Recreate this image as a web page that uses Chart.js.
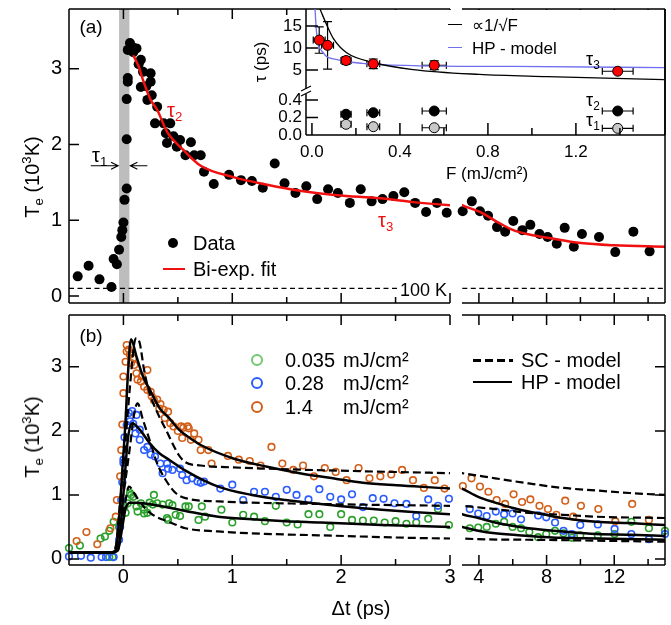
<!DOCTYPE html>
<html>
<head>
<meta charset="utf-8">
<title>Electron temperature transients</title>
<script src="https://cdn.jsdelivr.net/npm/chart.js@4.4.1/dist/chart.umd.min.js"></script>
<style>
html, body { margin: 0; padding: 0; background: #fff; }
#fig { position: relative; width: 671px; height: 625px; overflow: hidden; font-family: 'Liberation Sans', Arial, sans-serif; }
#fig canvas { position: absolute; left: 0; top: 0; }
.t { position: absolute; white-space: nowrap; line-height: 1; color: #000; }
.lm { transform: translateY(-50%); }
.cm { transform: translate(-50%, -50%); }
.rot { transform: translate(-50%, -50%) rotate(-90deg); }
sub { font-size: 0.66em; vertical-align: -0.3em; line-height: 0; }
sup { font-size: 0.66em; vertical-align: 0.62em; line-height: 0; }
.red { color: #f01010; }
.ln { position: absolute; height: 0; }
.dash { position: absolute; height: 2.5px; background: repeating-linear-gradient(90deg, #000 0 8px, transparent 8px 12px); }
.dot { position: absolute; border-radius: 50%; box-sizing: border-box; }
</style>
</head>
<body>
<div id="fig">
  <canvas id="aL" width="671" height="625"></canvas>
  <canvas id="aR" width="671" height="625"></canvas>
  <canvas id="bL" width="671" height="625"></canvas>
  <canvas id="bR" width="671" height="625"></canvas>
  <canvas id="iU" width="671" height="625"></canvas>
  <canvas id="iL" width="671" height="625"></canvas>

  <!-- panel (a) labels -->
  <div class="t cm" style="left:91px;top:26px;font-size:19px">(a)</div>
  <div class="t rot" style="left:32px;top:177px;font-size:20px">T<sub>e</sub> (10<sup>3</sup>K)</div>
  <div class="t lm" style="left:92px;top:155px;font-size:20px">τ<sub>1</sub></div>
  <div class="t lm red" style="left:167px;top:110px;font-size:20px">τ<sub>2</sub></div>
  <div class="t lm red" style="left:378px;top:220px;font-size:20px">τ<sub>3</sub></div>
  <div class="t lm" style="left:398px;top:290px;font-size:18px;background:#fff;padding:0 2px">100 K</div>
  <div class="dot" style="left:168px;top:238px;width:10px;height:10px;background:#000"></div>
  <div class="t lm" style="left:193px;top:243px;font-size:20px">Data</div>
  <div class="ln" style="left:163px;top:268px;width:22px;border-top:2.5px solid #f01010"></div>
  <div class="t lm" style="left:193px;top:269px;font-size:20px">Bi-exp. fit</div>

  <!-- inset labels -->
  <div class="ln" style="left:448px;top:24px;width:14px;border-top:1.5px solid #000"></div>
  <div class="t lm" style="left:472px;top:25px;font-size:17px">∝1/√F</div>
  <div class="ln" style="left:448px;top:47px;width:14px;border-top:1.5px solid #6f6ff0"></div>
  <div class="t lm" style="left:472px;top:48px;font-size:17px">HP - model</div>
  <div class="t cm" style="left:487px;top:173px;font-size:17px">F (mJ/cm²)</div>
  <div class="t rot" style="left:260px;top:62px;font-size:17px">τ (ps)</div>
  <div class="t lm" style="left:586px;top:59px;font-size:18px">τ<sub>3</sub></div>
  <div class="t lm" style="left:586px;top:100px;font-size:18px">τ<sub>2</sub></div>
  <div class="t lm" style="left:586px;top:120px;font-size:18px">τ<sub>1</sub></div>

  <!-- panel (b) labels -->
  <div class="t cm" style="left:91px;top:335px;font-size:19px">(b)</div>
  <div class="t rot" style="left:32px;top:437px;font-size:20px">T<sub>e</sub> (10<sup>3</sup>K)</div>
  <div class="t cm" style="left:361px;top:608px;font-size:20px">Δt (ps)</div>
  <div class="dot" style="left:251px;top:354px;width:12px;height:12px;border:2px solid #70c870"></div>
  <div class="dot" style="left:251px;top:377px;width:12px;height:12px;border:2px solid #2a5cff"></div>
  <div class="dot" style="left:251px;top:401px;width:12px;height:12px;border:2px solid #d2601a"></div>
  <div class="t lm" style="left:285px;top:360px;font-size:20px">0.035</div>
  <div class="t lm" style="left:285px;top:383px;font-size:20px">0.28</div>
  <div class="t lm" style="left:285px;top:407px;font-size:20px">1.4</div>
  <div class="t lm" style="left:343px;top:360px;font-size:20px">mJ/cm²</div>
  <div class="t lm" style="left:343px;top:383px;font-size:20px">mJ/cm²</div>
  <div class="t lm" style="left:343px;top:407px;font-size:20px">mJ/cm²</div>
  <div class="dash" style="left:473px;top:359px;width:40px"></div>
  <div class="t lm" style="left:521px;top:360px;font-size:20px">SC - model</div>
  <div class="ln" style="left:473px;top:381px;width:39px;border-top:2.5px solid #000"></div>
  <div class="t lm" style="left:521px;top:382px;font-size:20px">HP - model</div>
</div>

<script>
const FONT = "'Liberation Sans', Arial, sans-serif";
const W = 671, H = 625;

// ---- panel (a): measured Te (10^3 K) vs delay (ps)
const aT = [
  -0.42, -0.32, -0.22, -0.11, -0.09, -0.06, -0.04, -0.02, -0.01, 0.00,
  0.01, 0.03, 0.03, 0.03, 0.04, 0.04, 0.06, 0.04, 0.08, 0.09,
  0.12, 0.16, 0.14, 0.18, 0.16, 0.21, 0.25, 0.25, 0.22, 0.26,
  0.31, 0.29, 0.37, 0.43, 0.39, 0.40, 0.46, 0.52, 0.49, 0.57,
  0.62, 0.65, 0.71, 0.74, 0.83, 0.97, 1.08, 1.18, 1.28, 1.39,
  1.48, 1.58, 1.68, 1.78, 1.88, 1.97, 2.08, 2.18, 2.28, 2.38,
  2.48, 2.58, 2.68, 2.78, 2.88, 2.97, 3.04, 3.58, 4.06, 4.54,
  5.07, 5.55, 6.03, 6.57, 7.04, 7.58, 8.06, 8.60, 9.07, 9.61,
  10.09, 11.10, 12.06, 13.13, 14.09
];
const aTe = [
  0.26, 0.40, 0.22, 0.12, 0.49, 0.42, 0.61, 0.78, 0.87, 0.97,
  1.27, 1.42, 2.07, 2.60, 2.83, 2.88, 3.34, 3.25, 3.29, 3.22,
  3.27, 3.12, 3.06, 2.96, 2.76, 2.77, 2.94, 2.83, 2.59, 2.65,
  2.50, 2.28, 2.28, 2.28, 2.15, 2.02, 2.11, 2.06, 1.97, 1.86,
  2.03, 1.86, 1.86, 1.64, 1.48, 1.60, 1.53, 1.52, 1.43, 1.75,
  1.49, 1.36, 1.45, 1.28, 1.41, 1.36, 1.23, 1.41, 1.25, 1.28,
  1.32, 1.37, 1.23, 1.11, 1.23, 1.10, 1.12, 1.25, 1.12, 1.06,
  0.91, 0.85, 0.99, 0.87, 0.94, 0.82, 0.78, 0.69, 0.90, 0.65,
  0.82, 0.78, 0.58, 0.85, 0.59
];
// bi-exponential fit
const fitT  = [0.09, 0.14, 0.18, 0.25, 0.31, 0.40, 0.55, 0.71, 1.01, 1.32, 1.62, 1.96, 2.36, 2.66, 3.00, 4.06, 5.07, 6.03, 7.04, 8.06, 10.03, 12.0, 15.0];
const fitTe = [3.18, 3.03, 2.85, 2.59, 2.46, 2.17, 1.93, 1.72, 1.57, 1.47, 1.39, 1.33, 1.29, 1.24, 1.20, 1.11, 0.98, 0.87, 0.81, 0.77, 0.70, 0.67, 0.65];
const pumpBand = [-0.04, 0.055];      // grey tau1 window
const level100K = 0.1;
const tau1Arrow = { y: 1.72, from: [-0.30, 0.22] };

// ---- panel (b): three fluences
const orT = [
  -0.43, -0.34, -0.24, -0.12, -0.07, -0.06, -0.03, -0.02, -0.01, 0.00,
  0.00, 0.02, 0.03, 0.03, 0.05, 0.06, 0.07, 0.08, 0.09, 0.10,
  0.12, 0.13, 0.16, 0.17, 0.19, 0.22, 0.22, 0.25, 0.26, 0.28,
  0.31, 0.33, 0.34, 0.37, 0.38, 0.41, 0.43, 0.46, 0.50, 0.53,
  0.54, 0.55, 0.59, 0.60, 0.62, 0.65, 0.69, 0.71, 0.78, 0.81,
  0.96, 1.06, 1.16, 1.26, 1.36, 1.46, 1.56, 1.65, 1.75, 1.85,
  1.95, 2.05, 2.16, 2.26, 2.36, 2.46, 2.56, 2.66, 2.76, 2.86,
  2.95, 3.05, 3.56, 4.06, 4.56, 5.05, 5.55, 6.05, 6.55, 7.04,
  7.58, 8.08, 8.58, 9.10, 9.57, 10.03, 11.06, 12.06, 13.06, 14.05
];
const orTe = [
  0.28, 0.42, 0.23, 0.48, 0.66, 0.92, 1.29, 1.70, 2.10, 2.59,
  2.85, 3.08, 3.34, 3.24, 3.27, 3.19, 3.06, 3.22, 3.14, 3.03,
  2.90, 2.80, 2.77, 2.85, 2.69, 2.95, 2.64, 2.61, 2.54, 2.48,
  2.49, 2.35, 2.42, 2.33, 2.20, 2.30, 2.12, 2.07, 2.00, 2.07,
  1.89, 2.05, 2.07, 2.04, 1.86, 1.96, 1.86, 1.70, 1.70, 1.49,
  1.61, 1.55, 1.53, 1.46, 1.75, 1.49, 1.39, 1.46, 1.29, 1.42,
  1.36, 1.23, 1.42, 1.26, 1.29, 1.32, 1.39, 1.23, 1.11, 1.23,
  1.10, 1.14, 1.26, 1.13, 1.05, 0.92, 0.86, 1.01, 0.89, 0.93,
  0.83, 0.78, 0.69, 0.91, 0.66, 0.83, 0.78, 0.59, 0.86, 0.61
];
const blT = [
  -0.50, -0.39, -0.30, -0.20, -0.16, -0.09, -0.04, -0.03, -0.02, -0.01,
  0.00, 0.00, 0.01, 0.03, 0.05, 0.06, 0.08, 0.09, 0.11, 0.12,
  0.15, 0.15, 0.19, 0.22, 0.25, 0.29, 0.34, 0.36, 0.40, 0.41,
  0.45, 0.52, 0.54, 0.58, 0.63, 0.68, 0.71, 0.74, 0.89, 1.00,
  1.10, 1.20, 1.30, 1.40, 1.50, 1.59, 1.70, 1.80, 1.90, 2.00,
  2.10, 2.20, 2.29, 2.39, 2.49, 2.60, 2.69, 2.80, 2.89, 2.99,
  3.46, 3.96, 4.46, 5.00, 5.49, 5.99, 6.49, 7.50, 7.98, 8.50,
  9.00, 9.49, 9.99, 11.03, 12.02, 13.01, 14.05, 15.00
];
const blTe = [
  0.04, 0.05, 0.02, 0.03, 0.03, 0.03, 0.30, 0.50, 0.92, 1.20,
  1.50, 1.55, 1.90, 2.09, 2.28, 2.15, 2.31, 2.11, 1.96, 2.25,
  2.02, 1.86, 1.70, 1.75, 1.63, 1.60, 1.49, 1.34, 1.49, 1.41,
  1.39, 1.41, 1.31, 1.23, 1.26, 1.21, 1.19, 1.21, 1.10, 1.16,
  0.92, 1.05, 1.05, 0.97, 1.08, 1.00, 0.93, 1.09, 0.97, 0.93,
  1.01, 0.81, 0.95, 0.94, 0.87, 0.86, 0.67, 0.93, 0.83, 0.94,
  0.78, 0.71, 0.67, 0.74, 0.70, 0.71, 0.62, 0.68, 0.65, 0.57,
  0.44, 0.39, 0.53, 0.54, 0.47, 0.39, 0.31, 0.39
];
const grT = [
  -0.50, -0.40, -0.21, -0.17, -0.13, -0.13, -0.10, -0.09, -0.04, 0.01,
  0.02, 0.04, 0.06, 0.07, 0.09, 0.12, 0.13, 0.16, 0.19, 0.19,
  0.22, 0.24, 0.27, 0.28, 0.31, 0.36, 0.40, 0.41, 0.42, 0.45,
  0.48, 0.52, 0.57, 0.60, 0.69, 0.72, 0.75, 0.90, 1.00, 1.10,
  1.20, 1.30, 1.40, 1.50, 1.60, 1.70, 1.80, 1.90, 2.00, 2.10,
  2.20, 2.30, 2.40, 2.50, 2.60, 2.69, 2.80, 2.89, 2.99, 3.46,
  3.96, 4.46, 5.00, 5.49, 5.99, 6.49, 6.98, 7.50, 7.98, 8.50,
  9.00, 9.49, 9.99, 11.03, 12.02, 13.01, 14.05, 15.00
];
const grTe = [
  0.17, 0.21, 0.32, 0.35, 0.44, 0.03, 0.03, 0.58, 0.50, 0.82,
  0.72, 0.87, 1.03, 1.00, 0.97, 0.82, 0.74, 0.87, 0.71, 0.77,
  0.72, 0.88, 0.85, 1.00, 0.87, 0.85, 0.64, 0.61, 0.87, 0.84,
  0.69, 0.67, 0.82, 0.82, 0.61, 0.82, 0.66, 0.77, 0.57, 0.69,
  0.66, 0.59, 0.83, 0.57, 0.54, 0.70, 0.70, 0.50, 0.70, 0.61,
  0.60, 0.60, 0.57, 0.59, 0.55, 0.57, 0.63, 0.78, 0.53, 0.48,
  0.49, 0.50, 0.55, 0.58, 0.50, 0.48, 0.42, 0.34, 0.39, 0.44,
  0.40, 0.33, 0.37, 0.37, 0.39, 0.58, 0.48, 0.44
];
// model curves
const hpOrT  = [-0.5, -0.12, -0.07, -0.04, -0.01, 0.02, 0.04, 0.07, 0.12, 0.18, 0.25, 0.33, 0.42, 0.51, 0.61, 0.71, 1.01, 1.32, 1.62, 1.96, 2.2, 2.51, 3.0, 3.96, 4.96, 5.95, 6.94, 7.94, 8.94, 10.93, 12.92, 15.0];
const hpOrTe = [0.1, 0.1, 0.14, 0.61, 1.39, 2.17, 2.85, 3.43, 3.16, 2.85, 2.62, 2.36, 2.2, 2.02, 1.89, 1.78, 1.57, 1.44, 1.34, 1.25, 1.19, 1.15, 1.10, 0.97, 0.88, 0.80, 0.74, 0.69, 0.64, 0.58, 0.56, 0.53];
const hpBlT  = [-0.5, -0.12, -0.05, -0.02, 0.01, 0.04, 0.08, 0.15, 0.24, 0.33, 0.42, 0.57, 0.87, 1.18, 1.49, 1.81, 2.37, 3.0, 3.96, 4.96, 5.95, 6.94, 8.94, 10.93, 12.92, 15.0];
const hpBlTe = [0.1, 0.1, 0.14, 0.61, 1.23, 1.86, 2.12, 2.02, 1.81, 1.65, 1.55, 1.38, 1.13, 1.00, 0.92, 0.86, 0.77, 0.70, 0.64, 0.57, 0.52, 0.48, 0.43, 0.39, 0.38, 0.36];
const hpGrT  = [-0.5, -0.12, -0.05, -0.01, 0.02, 0.06, 0.12, 0.30, 0.57, 0.87, 1.18, 1.49, 1.81, 2.37, 3.0, 3.96, 4.96, 6.94, 8.94, 10.93, 15.0];
const hpGrTe = [0.1, 0.1, 0.14, 0.50, 0.79, 0.88, 0.88, 0.84, 0.75, 0.66, 0.62, 0.59, 0.57, 0.53, 0.50, 0.44, 0.40, 0.36, 0.33, 0.32, 0.30];
const scOrT  = [-0.5, -0.12, -0.07, -0.04, 0.01, 0.06, 0.10, 0.12, 0.15, 0.19, 0.24, 0.30, 0.39, 0.51, 0.57, 0.71, 1.01, 1.96, 3.0, 4.96, 6.94, 8.94, 10.93, 12.92, 15.0];
const scOrTe = [0.1, 0.1, 0.2, 0.72, 1.65, 2.69, 3.37, 3.45, 3.37, 2.95, 2.59, 2.33, 2.02, 1.62, 1.51, 1.46, 1.43, 1.38, 1.34, 1.26, 1.18, 1.11, 1.07, 1.03, 1.00];
const scBlT  = [-0.5, -0.12, -0.07, -0.04, 0.01, 0.06, 0.10, 0.13, 0.18, 0.24, 0.31, 0.39, 0.48, 0.57, 0.87, 1.79, 3.0, 4.96, 6.94, 8.94, 10.93, 15.0];
const scBlTe = [0.1, 0.1, 0.16, 0.61, 1.13, 1.75, 2.28, 2.43, 2.17, 1.86, 1.49, 1.23, 1.03, 0.95, 0.90, 0.86, 0.83, 0.78, 0.72, 0.69, 0.66, 0.64];
const scGrT  = [-0.5, -0.12, -0.07, -0.04, 0.01, 0.05, 0.12, 0.21, 0.30, 0.42, 0.57, 0.87, 1.18, 1.79, 3.0, 6.94, 15.0];
const scGrTe = [0.1, 0.1, 0.14, 0.40, 0.82, 1.13, 0.97, 0.77, 0.66, 0.58, 0.48, 0.43, 0.40, 0.37, 0.32, 0.30, 0.27];

// ---- inset: time constants vs fluence
const fl3   = [0.033, 0.071, 0.155, 0.279, 0.556, 1.39];
const fl3E  = [0.027, 0.027, 0.023, 0.029, 0.055, 0.07];
const tau3  = [11.8, 10.6, 7.15, 6.4, 6.08, 4.71];
const tau3E = [3.0, 5.4, 0.9, 1.1, 1.0, 0];
const fl12  = [0.155, 0.279, 0.556, 1.39];
const fl12E = [0.023, 0.029, 0.055, 0.07];
const tau2  = [0.237, 0.255, 0.274, 0.274];
const tau1  = [0.122, 0.095, 0.083, 0.076];
const sqrtF   = [0.036, 0.074, 0.097, 0.158, 0.28, 0.46, 0.76, 1.07, 1.6];
const sqrtTau = [18.9, 14.5, 12.2, 8.9, 6.7, 5.1, 4.0, 3.5, 2.8];
const hpF   = [0.014, 0.021, 0.05, 0.11, 0.23, 0.46, 0.91, 1.6];
const hpTau = [18.9, 13.5, 9.0, 7.4, 6.5, 6.0, 5.8, 5.55];

// ticks
const yTicks = [0, 1, 2, 3];
const xMajL = [0, 1, 2, 3], xMinL = [0.5, 1.5, 2.5];
const xMajR = [4, 8, 12], xMinR = [6, 10, 14];
const fMaj = [0, 0.4, 0.8, 1.2], fMin = [0.2, 0.6, 1.0, 1.4];

const ORANGE = '#d2601a', BLUE = '#2a5cff', GREEN = '#2ca02c';

function pts(xs, ys, lo, hi) {
  const out = xs.map((x, i) => ({ x, y: ys[i] }));
  return lo === undefined ? out : out.filter(p => p.x >= lo && p.x <= hi);
}
function dots(data, r, fill, stroke, bw) {
  return { data, showLine: false, pointRadius: r, pointHoverRadius: r, pointBackgroundColor: fill,
    pointBorderColor: stroke, pointBorderWidth: bw, clip: 8 };
}
function curve(data, color, w, dash) {
  return { data, showLine: true, pointRadius: 0, borderColor: color, borderWidth: w, borderDash: dash || [],
    cubicInterpolationMode: 'monotone', clip: 0, fill: false };
}
function errDots(data, r, fill, xErr, yErr) {
  return Object.assign(dots(data, r, fill, '#000', 1), { xErr, yErr });
}

// frame, inward ticks, grey band, arrows, error bars
const deco = {
  id: 'deco',
  beforeDraw(c, args, o) {
    if (!o.bg) return;
    const r = c.chartArea;
    c.ctx.save();
    c.ctx.fillStyle = '#fff';
    c.ctx.fillRect(r.left, r.top + 1, r.right - r.left - 1, r.bottom - r.top - 1);
    c.ctx.restore();
  },
  beforeDatasetsDraw(c, args, o) {
    const r = c.chartArea, ctx = c.ctx, xs = c.scales.x, ys = c.scales.y;
    ctx.save();
    if (o.band) {
      const x0 = xs.getPixelForValue(o.band[0]), x1 = xs.getPixelForValue(o.band[1]);
      ctx.fillStyle = '#bdbdbd';
      ctx.fillRect(x0, r.top, x1 - x0, r.bottom - r.top);
    }
    if (o.errors) {
      ctx.strokeStyle = '#000';
      ctx.lineWidth = 1.2;
      c.data.datasets.forEach(ds => {
        if (!ds.xErr) return;
        ds.data.forEach((p, i) => {
          const px = xs.getPixelForValue(p.x), py = ys.getPixelForValue(p.y);
          const ex = ds.xErr[i], ey = ds.yErr ? ds.yErr[i] : 0;
          ctx.beginPath();
          if (ex) {
            const a = xs.getPixelForValue(p.x - ex), b = xs.getPixelForValue(p.x + ex);
            ctx.moveTo(a, py); ctx.lineTo(b, py);
            ctx.moveTo(a, py - 3.5); ctx.lineTo(a, py + 3.5);
            ctx.moveTo(b, py - 3.5); ctx.lineTo(b, py + 3.5);
          }
          if (ey) {
            const a = ys.getPixelForValue(p.y - ey), b = ys.getPixelForValue(p.y + ey);
            ctx.moveTo(px, a); ctx.lineTo(px, b);
            ctx.moveTo(px - 4.5, a); ctx.lineTo(px + 4.5, a);
            ctx.moveTo(px - 4.5, b); ctx.lineTo(px + 4.5, b);
          }
          ctx.stroke();
        });
      });
    }
    ctx.restore();
  },
  afterDraw(c, args, o) {
    const r = c.chartArea, ctx = c.ctx, xs = c.scales.x, ys = c.scales.y;
    const f = o.frame || '';
    ctx.save();
    ctx.strokeStyle = '#000';
    ctx.lineWidth = 1.5;
    ctx.beginPath();
    if (f.includes('t')) { ctx.moveTo(r.left, r.top); ctx.lineTo(r.right, r.top); }
    if (f.includes('b')) { ctx.moveTo(r.left, r.bottom); ctx.lineTo(r.right, r.bottom); }
    if (f.includes('l')) { ctx.moveTo(r.left, r.top); ctx.lineTo(r.left, r.bottom); }
    if (f.includes('r')) { ctx.moveTo(r.right, r.top); ctx.lineTo(r.right, r.bottom); }
    const big = o.maj || 10, small = o.min || 6;
    const xt = (vals, len) => (vals || []).forEach(v => {
      const p = xs.getPixelForValue(v);
      if ((o.xSides || '').includes('b')) { ctx.moveTo(p, r.bottom); ctx.lineTo(p, r.bottom - len); }
      if ((o.xSides || '').includes('t')) { ctx.moveTo(p, r.top); ctx.lineTo(p, r.top + len); }
    });
    const yt = (vals, len) => (vals || []).forEach(v => {
      const p = ys.getPixelForValue(v);
      if ((o.ySides || '').includes('l')) { ctx.moveTo(r.left, p); ctx.lineTo(r.left + len, p); }
      if ((o.ySides || '').includes('r')) { ctx.moveTo(r.right, p); ctx.lineTo(r.right - len, p); }
    });
    xt(o.xMajor, big); xt(o.xMinor, small);
    yt(o.yMajor, big); yt(o.yMinor, small);
    ctx.stroke();
    if (o.arrow) {
      const y = ys.getPixelForValue(o.arrow.y);
      const l0 = xs.getPixelForValue(o.arrow.from[0]), l1 = xs.getPixelForValue(o.band[0]) - 1;
      const r0 = xs.getPixelForValue(o.arrow.from[1]), r1 = xs.getPixelForValue(o.band[1]) + 1;
      ctx.lineWidth = 1.2;
      ctx.beginPath();
      ctx.moveTo(l0, y); ctx.lineTo(l1, y);
      ctx.moveTo(l1 - 7, y - 3.5); ctx.lineTo(l1, y); ctx.lineTo(l1 - 7, y + 3.5);
      ctx.moveTo(r0, y); ctx.lineTo(r1, y);
      ctx.moveTo(r1 + 7, y - 3.5); ctx.lineTo(r1, y); ctx.lineTo(r1 + 7, y + 3.5);
      ctx.stroke();
    }
    if (o.brk) {
      const x0 = r.left, y0 = r.top;
      ctx.fillStyle = '#fff';
      ctx.fillRect(x0 - 2, y0 - 1, 4, 5);
      ctx.lineWidth = 1.2;
      ctx.beginPath();
      ctx.moveTo(x0 - 5, y0 + 1); ctx.lineTo(x0 + 5, y0 - 4);
      ctx.moveTo(x0 - 5, y0 + 6); ctx.lineTo(x0 + 5, y0 + 1);
      ctx.stroke();
    }
    ctx.restore();
  }
};
Chart.register(deco);

function axis(dir, lo, hi, labels, size, pad, px, fmt) {
  return {
    type: 'linear', position: dir === 'x' ? 'bottom' : 'left', min: lo, max: hi, display: !!labels,
    grid: { display: false, drawTicks: false }, border: { display: false },
    ticks: { color: '#000', font: { family: FONT, size: size || 18 }, padding: pad || 0, maxRotation: 0,
      autoSkip: false, callback: fmt || (v => String(v)) },
    afterBuildTicks: s => { if (labels) s.ticks = labels.map(v => ({ value: v })); },
    afterFit: s => {
      if (dir === 'x') s.height = labels ? px : 0; else s.width = labels ? px : 0;
      s.paddingLeft = s.paddingRight = s.paddingTop = s.paddingBottom = 0;
    }
  };
}

function plot(id, area, o) {
  const yW = o.yLabels ? o.yW : 0, xH = o.xLabels ? o.xH : 0;
  return new Chart(document.getElementById(id), {
    type: 'scatter',
    data: { datasets: o.datasets },
    options: {
      responsive: false, animation: false, events: [],
      layout: { autoPadding: false, padding: { left: area[0] - yW, top: area[1], right: W - area[2], bottom: H - area[3] - xH } },
      scales: {
        x: axis('x', o.x[0], o.x[1], o.xLabels, o.xFont, o.xPad, xH, o.fmtX),
        y: axis('y', o.y[0], o.y[1], o.yLabels, o.yFont, o.yPad, yW, o.fmtY)
      },
      plugins: { legend: { display: false }, tooltip: { enabled: false }, deco: o.deco }
    }
  });
}

const A_L = [69, 9, 450, 303], A_R = [462, 9, 665, 303];
const B_L = [69, 315, 450, 565], B_R = [462, 315, 665, 565];
const I_U = [306, 9, 665, 90], I_L = [306, 90, 665, 135];
const yA = [-0.092, 3.79], yB = [-0.094, 3.81];
const xL = [-0.5, 3], xR = [3, 15];

function panelA(seg) {
  const [lo, hi] = seg === 'L' ? xL : xR;
  return [
    curve(pts(fitT, fitTe), '#f01010', 2.5),
    curve([{ x: -0.5, y: level100K }, { x: 15, y: level100K }], '#000', 1.2, [5, 3.5]),
    dots(pts(aT, aTe, lo, hi), 5, '#000', '#000', 0)
  ];
}
function panelB(seg) {
  const [lo, hi] = seg === 'L' ? xL : xR;
  return [
    curve(pts(hpOrT, hpOrTe), '#000', 2.5),
    curve(pts(hpBlT, hpBlTe), '#000', 2.5),
    curve(pts(hpGrT, hpGrTe), '#000', 2.5),
    curve(pts(scOrT, scOrTe), '#000', 2.2, [8, 4]),
    curve(pts(scBlT, scBlTe), '#000', 2.2, [8, 4]),
    curve(pts(scGrT, scGrTe), '#000', 2.2, [8, 4]),
    dots(pts(orT, orTe, lo, hi), 3.3, 'rgba(0,0,0,0)', ORANGE, 1.6),
    dots(pts(blT, blTe, lo, hi), 3.3, 'rgba(0,0,0,0)', BLUE, 1.6),
    dots(pts(grT, grTe, lo, hi), 3.3, 'rgba(0,0,0,0)', GREEN, 1.6)
  ];
}

plot('aL', A_L, { x: xL, y: yA, yLabels: yTicks, yW: 60, yPad: 7, yFont: 20, datasets: panelA('L'),
  deco: { frame: 'tbl', xMajor: xMajL, xMinor: xMinL, xSides: 'tb', yMajor: yTicks, ySides: 'l', band: pumpBand, arrow: tau1Arrow } });
plot('aR', A_R, { x: xR, y: yA, datasets: panelA('R'),
  deco: { frame: 'tbr', xMajor: xMajR, xMinor: xMinR, xSides: 'tb' } });
plot('bL', B_L, { x: xL, y: yB, xLabels: xMajL, xH: 30, xPad: 0, xFont: 20, yLabels: yTicks, yW: 60, yPad: 7, yFont: 20,
  datasets: panelB('L'),
  deco: { frame: 'tbl', xMajor: xMajL, xMinor: xMinL, xSides: 'tb', yMajor: yTicks, ySides: 'l' } });
plot('bR', B_R, { x: xR, y: yB, xLabels: xMajR, xH: 30, xPad: 0, xFont: 20, datasets: panelB('R'),
  deco: { frame: 'tbr', xMajor: xMajR, xMinor: xMinR, xSides: 'tb', yMajor: yTicks, ySides: 'r' } });

plot('iU', I_U, { x: [-0.027, 1.605], y: [0.45, 18.86], yLabels: [5, 10, 15], yW: 40, yPad: 4, yFont: 17,
  datasets: [
    errDots(pts(fl3, tau3), 5, '#ff0000', fl3E, tau3E),
    curve(pts(sqrtF, sqrtTau), '#000', 1.3),
    curve(pts(hpF, hpTau), '#6f6ff0', 1.3)
  ],
  deco: { bg: true, frame: 'lr', yMajor: [5, 10, 15], ySides: 'l', errors: true, maj: 12 } });
plot('iL', I_L, { x: [-0.027, 1.605], y: [0, 0.514], xLabels: fMaj, xH: 30, xPad: 7, xFont: 17, fmtX: v => v.toFixed(1),
  yLabels: [0, 0.2, 0.4], yW: 40, yPad: 4, yFont: 17, fmtY: v => v.toFixed(1),
  datasets: [
    errDots(pts(fl12, tau2), 5, '#000', fl12E),
    errDots(pts(fl12, tau1), 5, '#c8c8c8', fl12E)
  ],
  deco: { bg: true, frame: 'lbr', xMajor: fMaj, xMinor: fMin, xSides: 'b', yMajor: [0.2, 0.4], ySides: 'l', errors: true, brk: true, maj: 12, min: 7 } });
</script>
</body>
</html>
